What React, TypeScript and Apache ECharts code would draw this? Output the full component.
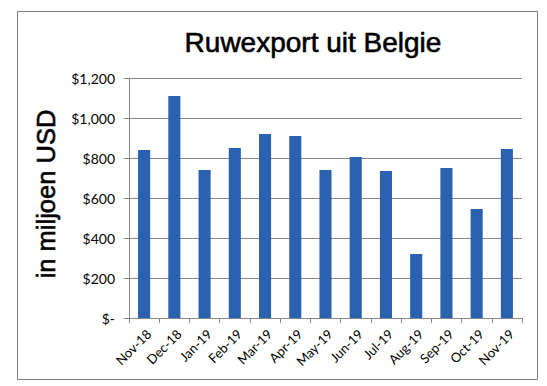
import React, { useEffect, useRef } from "react";
import * as echarts from "echarts";

const categories = ["Nov-18", "Dec-18", "Jan-19", "Feb-19", "Mar-19", "Apr-19", "May-19", "Jun-19", "Jul-19", "Aug-19", "Sep-19", "Oct-19", "Nov-19"];
const exportValues = [840, 1110, 740, 850, 920, 910, 740, 805, 735, 320, 750, 545, 845];
const titleText = "Ruwexport uit Belgie";
const yAxisTitle = "in miljoen USD";

export default function App() {
  const ref = useRef<HTMLDivElement>(null);
  useEffect(() => {
    document.body.style.margin = "0";
    const chart = echarts.init(ref.current!, null, { renderer: "svg" });
    const gray = "#868686";
    chart.setOption({
      animation: false,
      backgroundColor: "#ffffff",
      title: {
        text: titleText,
        left: 308,
        top: 23,
        textAlign: "center",
        textStyle: {
          fontFamily: "Liberation Sans",
          fontSize: 28,
          fontWeight: "normal",
          color: "#000",
          textBorderColor: "#000",
          textBorderWidth: 0.6,
        },
      },
      graphic: [
        {
          type: "rect",
          shape: { x: 17.5, y: 11.5, width: 520, height: 368 },
          style: { fill: "none", stroke: "#7f7f7f", lineWidth: 1 },
          silent: true,
        },
        {
          type: "text",
          x: 46,
          y: 194,
          rotation: Math.PI / 2,
          style: {
            text: yAxisTitle,
            fontFamily: "Liberation Sans",
            fontSize: 25.5,
            fill: "#000",
            stroke: "#000",
            lineWidth: 0.6,
            align: "center",
            verticalAlign: "middle",
          },
        },
      ],
      grid: { left: 129, right: 25, top: 78, bottom: 68, containLabel: false },
      xAxis: {
        type: "category",
        data: categories,
        axisLine: { show: true, lineStyle: { color: gray } },
        axisTick: { show: true, interval: 0, length: 5, lineStyle: { color: gray } },
        axisLabel: {
          interval: 0,
          rotate: 45,
          fontFamily: "Lato",
          fontSize: 13,
          color: "#000",
          margin: 9,
          verticalAlign: "top",
        },
      },
      yAxis: {
        type: "value",
        min: 0,
        max: 1200,
        interval: 200,
        axisLine: { show: true, lineStyle: { color: gray } },
        axisTick: { show: true, length: 5, lineStyle: { color: gray } },
        splitLine: { show: true, lineStyle: { color: gray } },
        axisLabel: {
          fontFamily: "Lato",
          fontSize: 14,
          color: "#000",
          margin: 14,
          formatter: (v: number) => (v === 0 ? "$-" : "$" + v.toLocaleString("en-US")),
        },
      },
      series: [
        {
          type: "bar",
          data: exportValues,
          barWidth: "40%",
          itemStyle: { color: "#2a62b0" },
        },
      ],
    });
    return () => chart.dispose();
  }, []);
  return <div ref={ref} style={{ position: "fixed", left: 0, top: 0, width: 547, height: 386 }} />;
}
